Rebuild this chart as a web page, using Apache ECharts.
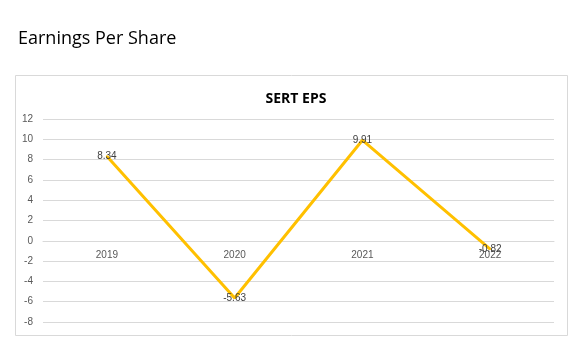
<!DOCTYPE html>
<html><head><meta charset="utf-8">
<script src="https://cdn.jsdelivr.net/npm/echarts@6/dist/echarts.min.js"></script>
<style>html,body{margin:0;padding:0;background:#fff}#c{width:583px;height:354px}</style>
</head><body><div id="c"></div>
<script>
var categories = ['2019','2020','2021','2022'];
var epsValues = [8.34, -5.63, 9.91, -0.82];
var yTicks = {min: -8, max: 12, interval: 2};

var gridTop = 119, gridBottom = 32, H = 354;
var plotH = H - gridTop - gridBottom;
var zeroOffset = -plotH * (0 - yTicks.min) / (yTicks.max - yTicks.min);

var chart = echarts.init(document.getElementById('c'), null, {renderer:'canvas'});
chart.setOption({
  animation: false,
  backgroundColor: '#fff',
  title: [
    {text: 'Earnings Per Share', left: 13, top: 25,
     textStyle: {fontFamily: 'Open Sans', fontSize: 18, fontWeight: 'normal', color: '#000'}},
    {text: 'SERT EPS', left: 291, textAlign: 'center', top: 87,
     textStyle: {fontFamily: 'Open Sans', fontSize: 14, fontWeight: 'bold', color: '#000'}}
  ],
  graphic: [{type:'rect', shape:{x:15.5, y:75.5, width:552, height:260},
    style:{fill:'none', stroke:'#d9d9d9', lineWidth:1}, silent:true}],
  grid: {left: 43, right: 29, top: gridTop, bottom: gridBottom, containLabel: false},
  xAxis: {
    type: 'category', data: categories, boundaryGap: true,
    position: 'bottom', offset: zeroOffset,
    axisLine: {show: true, onZero: false, lineStyle: {color: '#d9d9d9'}},
    axisTick: {show: false},
    axisLabel: {color: '#595959', fontFamily: 'Liberation Sans', fontSize: 10, margin: 9}
  },
  yAxis: {
    type: 'value', min: yTicks.min, max: yTicks.max, interval: yTicks.interval,
    axisLine: {show: false}, axisTick: {show: false},
    axisLabel: {color: '#595959', fontFamily: 'Liberation Sans', fontSize: 10, margin: 10},
    splitLine: {lineStyle: {color: '#d9d9d9', width: 1}}
  },
  series: [{
    type: 'line', data: epsValues,
    symbol: 'circle', symbolSize: 2, showSymbol: true,
    itemStyle: {color: '#FFC000'},
    lineStyle: {color: '#FFC000', width: 3},
    label: {show: true, position: 'inside', color: '#404040', fontFamily: 'Liberation Sans', fontSize: 10,
      formatter: function(p){ return p.value.toFixed(2); }}
  }]
});
</script></body></html>
